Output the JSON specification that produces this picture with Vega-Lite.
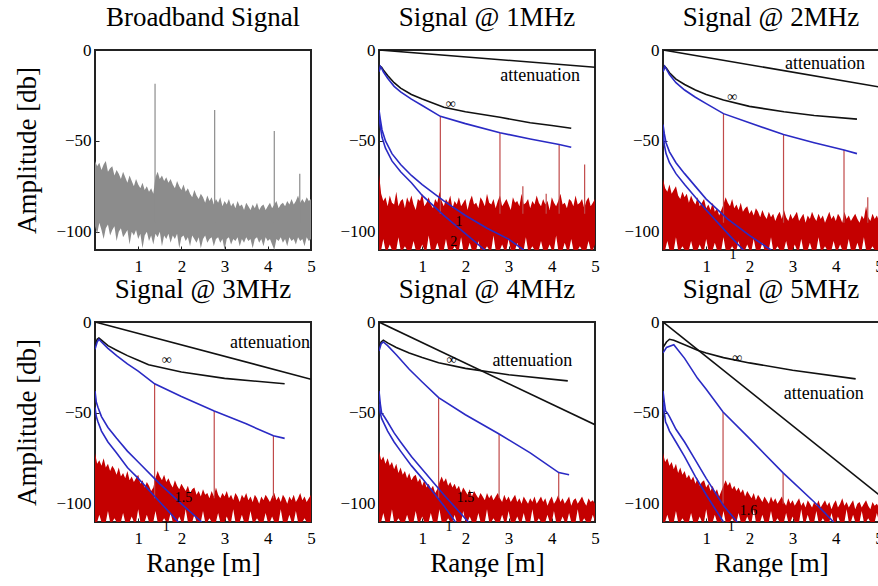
{
"$schema": "https://vega.github.io/schema/vega-lite/v6.json",
"background": "white",
"padding": {"left": 12, "top": 3, "right": 0, "bottom": 0},
"config": {
 "font": "Liberation Serif, Times New Roman, serif",
 "view": {"stroke": "#222222", "strokeWidth": 2},
 "title": {"font": "Liberation Serif, Times New Roman, serif", "fontSize": 27, "fontWeight": "normal", "color": "black", "offset": 9, "anchor": "middle"},
 "axis": {"labelFont": "Liberation Serif, Times New Roman, serif", "labelFontSize": 17, "labelColor": "black", "domain": false, "grid": false, "ticks": true, "tickColor": "#222222", "tickSize": -4, "labelPadding": 12, "labelFlush": false, "labelOverlap": false, "titleFont": "Liberation Serif, Times New Roman, serif", "titleFontSize": 27, "titleFontWeight": "normal", "titleColor": "black"},
 "axisY": {"labelPadding": 8, "titlePadding": 14},
 "axisX": {"titlePadding": 4}
},
"datasets": {
"noise": [
{"p":1,"x":0.00,"h":-61,"l":-97},{"p":1,"x":0.05,"h":-64,"l":-101},{"p":1,"x":0.10,"h":-62,"l":-95},{"p":1,"x":0.15,"h":-66,"l":-99},{"p":1,"x":0.20,"h":-63,"l":-104},{"p":1,"x":0.25,"h":-61,"l":-98},{"p":1,"x":0.30,"h":-67,"l":-96},{"p":1,"x":0.35,"h":-65,"l":-102},{"p":1,"x":0.40,"h":-64,"l":-99},{"p":1,"x":0.45,"h":-69,"l":-97},{"p":1,"x":0.50,"h":-66,"l":-105},{"p":1,"x":0.55,"h":-68,"l":-100},{"p":1,"x":0.60,"h":-71,"l":-98},{"p":1,"x":0.65,"h":-67,"l":-103},{"p":1,"x":0.70,"h":-70,"l":-101},{"p":1,"x":0.75,"h":-73,"l":-99},{"p":1,"x":0.80,"h":-69,"l":-107},{"p":1,"x":0.85,"h":-72,"l":-100},{"p":1,"x":0.90,"h":-75,"l":-102},{"p":1,"x":0.95,"h":-71,"l":-99},{"p":1,"x":1.00,"h":-74,"l":-104},{"p":1,"x":1.05,"h":-76,"l":-101},{"p":1,"x":1.10,"h":-73,"l":-109},{"p":1,"x":1.15,"h":-77,"l":-102},{"p":1,"x":1.20,"h":-75,"l":-100},{"p":1,"x":1.25,"h":-78,"l":-105},{"p":1,"x":1.30,"h":-76,"l":-102},{"p":1,"x":1.35,"h":-79,"l":-107},{"p":1,"x":1.40,"h":-70,"l":-101},{"p":1,"x":1.45,"h":-67,"l":-103},{"p":1,"x":1.50,"h":-71,"l":-100},{"p":1,"x":1.55,"h":-69,"l":-108},{"p":1,"x":1.60,"h":-72,"l":-102},{"p":1,"x":1.65,"h":-70,"l":-104},{"p":1,"x":1.70,"h":-73,"l":-101},{"p":1,"x":1.75,"h":-71,"l":-106},{"p":1,"x":1.80,"h":-74,"l":-102},{"p":1,"x":1.85,"h":-76,"l":-104},{"p":1,"x":1.90,"h":-72,"l":-101},{"p":1,"x":1.95,"h":-75,"l":-109},{"p":1,"x":2.00,"h":-77,"l":-103},{"p":1,"x":2.05,"h":-74,"l":-102},{"p":1,"x":2.10,"h":-78,"l":-105},{"p":1,"x":2.15,"h":-76,"l":-103},{"p":1,"x":2.20,"h":-79,"l":-108},{"p":1,"x":2.25,"h":-81,"l":-102},{"p":1,"x":2.30,"h":-77,"l":-104},{"p":1,"x":2.35,"h":-80,"l":-106},{"p":1,"x":2.40,"h":-82,"l":-103},{"p":1,"x":2.45,"h":-79,"l":-109},{"p":1,"x":2.50,"h":-81,"l":-104},{"p":1,"x":2.55,"h":-84,"l":-102},{"p":1,"x":2.60,"h":-80,"l":-106},{"p":1,"x":2.65,"h":-83,"l":-104},{"p":1,"x":2.70,"h":-81,"l":-103},{"p":1,"x":2.75,"h":-85,"l":-108},{"p":1,"x":2.80,"h":-82,"l":-104},{"p":1,"x":2.85,"h":-84,"l":-103},{"p":1,"x":2.90,"h":-81,"l":-106},{"p":1,"x":2.95,"h":-86,"l":-104},{"p":1,"x":3.00,"h":-83,"l":-110},{"p":1,"x":3.05,"h":-85,"l":-104},{"p":1,"x":3.10,"h":-82,"l":-103},{"p":1,"x":3.15,"h":-86,"l":-107},{"p":1,"x":3.20,"h":-84,"l":-104},{"p":1,"x":3.25,"h":-87,"l":-105},{"p":1,"x":3.30,"h":-83,"l":-103},{"p":1,"x":3.35,"h":-86,"l":-108},{"p":1,"x":3.40,"h":-85,"l":-104},{"p":1,"x":3.45,"h":-88,"l":-106},{"p":1,"x":3.50,"h":-84,"l":-103},{"p":1,"x":3.55,"h":-86,"l":-105},{"p":1,"x":3.60,"h":-88,"l":-104},{"p":1,"x":3.65,"h":-85,"l":-109},{"p":1,"x":3.70,"h":-87,"l":-104},{"p":1,"x":3.75,"h":-84,"l":-103},{"p":1,"x":3.80,"h":-88,"l":-106},{"p":1,"x":3.85,"h":-86,"l":-104},{"p":1,"x":3.90,"h":-85,"l":-108},{"p":1,"x":3.95,"h":-88,"l":-103},{"p":1,"x":4.00,"h":-86,"l":-105},{"p":1,"x":4.05,"h":-84,"l":-104},{"p":1,"x":4.10,"h":-87,"l":-107},{"p":1,"x":4.15,"h":-85,"l":-110},{"p":1,"x":4.20,"h":-83,"l":-104},{"p":1,"x":4.25,"h":-87,"l":-105},{"p":1,"x":4.30,"h":-85,"l":-103},{"p":1,"x":4.35,"h":-84,"l":-106},{"p":1,"x":4.40,"h":-86,"l":-104},{"p":1,"x":4.45,"h":-83,"l":-108},{"p":1,"x":4.50,"h":-85,"l":-103},{"p":1,"x":4.55,"h":-82,"l":-105},{"p":1,"x":4.60,"h":-85,"l":-104},{"p":1,"x":4.65,"h":-83,"l":-107},{"p":1,"x":4.70,"h":-80,"l":-103},{"p":1,"x":4.75,"h":-84,"l":-105},{"p":1,"x":4.80,"h":-82,"l":-104},{"p":1,"x":4.85,"h":-84,"l":-108},{"p":1,"x":4.90,"h":-81,"l":-103},{"p":1,"x":4.95,"h":-83,"l":-105},{"p":1,"x":5.00,"h":-82,"l":-104},
{"p":2,"x":0.00,"h":-68,"l":-110},{"p":2,"x":0.05,"h":-79,"l":-110},{"p":2,"x":0.10,"h":-83,"l":-104},{"p":2,"x":0.15,"h":-81,"l":-110},{"p":2,"x":0.20,"h":-86,"l":-110},{"p":2,"x":0.25,"h":-80,"l":-107},{"p":2,"x":0.30,"h":-84,"l":-110},{"p":2,"x":0.35,"h":-85,"l":-110},{"p":2,"x":0.40,"h":-78,"l":-110},{"p":2,"x":0.45,"h":-86,"l":-103},{"p":2,"x":0.50,"h":-83,"l":-110},{"p":2,"x":0.55,"h":-82,"l":-110},{"p":2,"x":0.60,"h":-87,"l":-108},{"p":2,"x":0.65,"h":-81,"l":-110},{"p":2,"x":0.70,"h":-84,"l":-110},{"p":2,"x":0.75,"h":-80,"l":-110},{"p":2,"x":0.80,"h":-85,"l":-105},{"p":2,"x":0.85,"h":-88,"l":-110},{"p":2,"x":0.90,"h":-82,"l":-110},{"p":2,"x":0.95,"h":-83,"l":-110},{"p":2,"x":1.00,"h":-79,"l":-107},{"p":2,"x":1.05,"h":-86,"l":-110},{"p":2,"x":1.10,"h":-84,"l":-110},{"p":2,"x":1.15,"h":-81,"l":-102},{"p":2,"x":1.20,"h":-85,"l":-110},{"p":2,"x":1.25,"h":-87,"l":-110},{"p":2,"x":1.30,"h":-82,"l":-110},{"p":2,"x":1.35,"h":-84,"l":-106},{"p":2,"x":1.40,"h":-78,"l":-110},{"p":2,"x":1.45,"h":-83,"l":-110},{"p":2,"x":1.50,"h":-86,"l":-110},{"p":2,"x":1.55,"h":-82,"l":-104},{"p":2,"x":1.60,"h":-84,"l":-110},{"p":2,"x":1.65,"h":-80,"l":-110},{"p":2,"x":1.70,"h":-87,"l":-110},{"p":2,"x":1.75,"h":-83,"l":-108},{"p":2,"x":1.80,"h":-85,"l":-110},{"p":2,"x":1.85,"h":-81,"l":-110},{"p":2,"x":1.90,"h":-86,"l":-103},{"p":2,"x":1.95,"h":-84,"l":-110},{"p":2,"x":2.00,"h":-82,"l":-110},{"p":2,"x":2.05,"h":-88,"l":-110},{"p":2,"x":2.10,"h":-83,"l":-106},{"p":2,"x":2.15,"h":-80,"l":-110},{"p":2,"x":2.20,"h":-85,"l":-110},{"p":2,"x":2.25,"h":-84,"l":-110},{"p":2,"x":2.30,"h":-87,"l":-105},{"p":2,"x":2.35,"h":-81,"l":-110},{"p":2,"x":2.40,"h":-83,"l":-110},{"p":2,"x":2.45,"h":-86,"l":-110},{"p":2,"x":2.50,"h":-79,"l":-108},{"p":2,"x":2.55,"h":-84,"l":-110},{"p":2,"x":2.60,"h":-85,"l":-110},{"p":2,"x":2.65,"h":-82,"l":-102},{"p":2,"x":2.70,"h":-87,"l":-110},{"p":2,"x":2.75,"h":-83,"l":-110},{"p":2,"x":2.80,"h":-80,"l":-110},{"p":2,"x":2.85,"h":-86,"l":-107},{"p":2,"x":2.90,"h":-84,"l":-110},{"p":2,"x":2.95,"h":-82,"l":-110},{"p":2,"x":3.00,"h":-85,"l":-104},{"p":2,"x":3.05,"h":-88,"l":-110},{"p":2,"x":3.10,"h":-81,"l":-110},{"p":2,"x":3.15,"h":-84,"l":-110},{"p":2,"x":3.20,"h":-83,"l":-106},{"p":2,"x":3.25,"h":-86,"l":-110},{"p":2,"x":3.30,"h":-79,"l":-110},{"p":2,"x":3.35,"h":-85,"l":-110},{"p":2,"x":3.40,"h":-84,"l":-103},{"p":2,"x":3.45,"h":-82,"l":-110},{"p":2,"x":3.50,"h":-87,"l":-110},{"p":2,"x":3.55,"h":-83,"l":-108},{"p":2,"x":3.60,"h":-85,"l":-110},{"p":2,"x":3.65,"h":-80,"l":-110},{"p":2,"x":3.70,"h":-84,"l":-110},{"p":2,"x":3.75,"h":-86,"l":-105},{"p":2,"x":3.80,"h":-82,"l":-110},{"p":2,"x":3.85,"h":-85,"l":-110},{"p":2,"x":3.90,"h":-83,"l":-110},{"p":2,"x":3.95,"h":-88,"l":-107},{"p":2,"x":4.00,"h":-81,"l":-110},{"p":2,"x":4.05,"h":-84,"l":-110},{"p":2,"x":4.10,"h":-86,"l":-102},{"p":2,"x":4.15,"h":-83,"l":-110},{"p":2,"x":4.20,"h":-79,"l":-110},{"p":2,"x":4.25,"h":-85,"l":-110},{"p":2,"x":4.30,"h":-84,"l":-106},{"p":2,"x":4.35,"h":-87,"l":-110},{"p":2,"x":4.40,"h":-82,"l":-110},{"p":2,"x":4.45,"h":-83,"l":-104},{"p":2,"x":4.50,"h":-86,"l":-110},{"p":2,"x":4.55,"h":-80,"l":-110},{"p":2,"x":4.60,"h":-85,"l":-110},{"p":2,"x":4.65,"h":-84,"l":-108},{"p":2,"x":4.70,"h":-82,"l":-110},{"p":2,"x":4.75,"h":-87,"l":-110},{"p":2,"x":4.80,"h":-83,"l":-110},{"p":2,"x":4.85,"h":-81,"l":-105},{"p":2,"x":4.90,"h":-86,"l":-110},{"p":2,"x":4.95,"h":-84,"l":-110},{"p":2,"x":5.00,"h":-82,"l":-107},
{"p":3,"x":0.00,"h":-71,"l":-110},{"p":3,"x":0.05,"h":-76,"l":-110},{"p":3,"x":0.10,"h":-78,"l":-105},{"p":3,"x":0.15,"h":-74,"l":-110},{"p":3,"x":0.20,"h":-79,"l":-110},{"p":3,"x":0.25,"h":-77,"l":-110},{"p":3,"x":0.30,"h":-75,"l":-103},{"p":3,"x":0.35,"h":-80,"l":-110},{"p":3,"x":0.40,"h":-82,"l":-110},{"p":3,"x":0.45,"h":-78,"l":-108},{"p":3,"x":0.50,"h":-81,"l":-110},{"p":3,"x":0.55,"h":-79,"l":-110},{"p":3,"x":0.60,"h":-84,"l":-110},{"p":3,"x":0.65,"h":-80,"l":-105},{"p":3,"x":0.70,"h":-83,"l":-110},{"p":3,"x":0.75,"h":-85,"l":-110},{"p":3,"x":0.80,"h":-81,"l":-110},{"p":3,"x":0.85,"h":-86,"l":-107},{"p":3,"x":0.90,"h":-84,"l":-110},{"p":3,"x":0.95,"h":-82,"l":-110},{"p":3,"x":1.00,"h":-87,"l":-104},{"p":3,"x":1.05,"h":-85,"l":-110},{"p":3,"x":1.10,"h":-88,"l":-110},{"p":3,"x":1.15,"h":-84,"l":-110},{"p":3,"x":1.20,"h":-89,"l":-106},{"p":3,"x":1.25,"h":-87,"l":-110},{"p":3,"x":1.30,"h":-91,"l":-110},{"p":3,"x":1.35,"h":-88,"l":-110},{"p":3,"x":1.40,"h":-85,"l":-103},{"p":3,"x":1.45,"h":-81,"l":-110},{"p":3,"x":1.50,"h":-84,"l":-110},{"p":3,"x":1.55,"h":-86,"l":-110},{"p":3,"x":1.60,"h":-82,"l":-108},{"p":3,"x":1.65,"h":-87,"l":-110},{"p":3,"x":1.70,"h":-85,"l":-110},{"p":3,"x":1.75,"h":-88,"l":-105},{"p":3,"x":1.80,"h":-84,"l":-110},{"p":3,"x":1.85,"h":-89,"l":-110},{"p":3,"x":1.90,"h":-87,"l":-110},{"p":3,"x":1.95,"h":-86,"l":-107},{"p":3,"x":2.00,"h":-90,"l":-110},{"p":3,"x":2.05,"h":-88,"l":-110},{"p":3,"x":2.10,"h":-91,"l":-104},{"p":3,"x":2.15,"h":-87,"l":-110},{"p":3,"x":2.20,"h":-89,"l":-110},{"p":3,"x":2.25,"h":-92,"l":-110},{"p":3,"x":2.30,"h":-88,"l":-106},{"p":3,"x":2.35,"h":-91,"l":-110},{"p":3,"x":2.40,"h":-93,"l":-110},{"p":3,"x":2.45,"h":-89,"l":-110},{"p":3,"x":2.50,"h":-92,"l":-103},{"p":3,"x":2.55,"h":-90,"l":-110},{"p":3,"x":2.60,"h":-94,"l":-110},{"p":3,"x":2.65,"h":-91,"l":-108},{"p":3,"x":2.70,"h":-89,"l":-110},{"p":3,"x":2.75,"h":-93,"l":-110},{"p":3,"x":2.80,"h":-88,"l":-110},{"p":3,"x":2.85,"h":-92,"l":-105},{"p":3,"x":2.90,"h":-94,"l":-110},{"p":3,"x":2.95,"h":-90,"l":-110},{"p":3,"x":3.00,"h":-93,"l":-110},{"p":3,"x":3.05,"h":-91,"l":-107},{"p":3,"x":3.10,"h":-89,"l":-110},{"p":3,"x":3.15,"h":-94,"l":-110},{"p":3,"x":3.20,"h":-92,"l":-104},{"p":3,"x":3.25,"h":-90,"l":-110},{"p":3,"x":3.30,"h":-95,"l":-110},{"p":3,"x":3.35,"h":-91,"l":-110},{"p":3,"x":3.40,"h":-93,"l":-106},{"p":3,"x":3.45,"h":-89,"l":-110},{"p":3,"x":3.50,"h":-92,"l":-110},{"p":3,"x":3.55,"h":-94,"l":-110},{"p":3,"x":3.60,"h":-90,"l":-103},{"p":3,"x":3.65,"h":-93,"l":-110},{"p":3,"x":3.70,"h":-91,"l":-110},{"p":3,"x":3.75,"h":-95,"l":-108},{"p":3,"x":3.80,"h":-92,"l":-110},{"p":3,"x":3.85,"h":-89,"l":-110},{"p":3,"x":3.90,"h":-93,"l":-110},{"p":3,"x":3.95,"h":-91,"l":-105},{"p":3,"x":4.00,"h":-94,"l":-110},{"p":3,"x":4.05,"h":-90,"l":-110},{"p":3,"x":4.10,"h":-92,"l":-107},{"p":3,"x":4.15,"h":-95,"l":-110},{"p":3,"x":4.20,"h":-89,"l":-110},{"p":3,"x":4.25,"h":-93,"l":-110},{"p":3,"x":4.30,"h":-91,"l":-104},{"p":3,"x":4.35,"h":-94,"l":-110},{"p":3,"x":4.40,"h":-92,"l":-110},{"p":3,"x":4.45,"h":-90,"l":-110},{"p":3,"x":4.50,"h":-93,"l":-106},{"p":3,"x":4.55,"h":-95,"l":-110},{"p":3,"x":4.60,"h":-91,"l":-110},{"p":3,"x":4.65,"h":-93,"l":-103},{"p":3,"x":4.70,"h":-86,"l":-110},{"p":3,"x":4.75,"h":-92,"l":-110},{"p":3,"x":4.80,"h":-94,"l":-110},{"p":3,"x":4.85,"h":-90,"l":-108},{"p":3,"x":4.90,"h":-93,"l":-110},{"p":3,"x":4.95,"h":-91,"l":-110},{"p":3,"x":5.00,"h":-94,"l":-110},
{"p":4,"x":0.00,"h":-72,"l":-110},{"p":4,"x":0.05,"h":-78,"l":-110},{"p":4,"x":0.10,"h":-76,"l":-106},{"p":4,"x":0.15,"h":-79,"l":-110},{"p":4,"x":0.20,"h":-75,"l":-110},{"p":4,"x":0.25,"h":-80,"l":-110},{"p":4,"x":0.30,"h":-78,"l":-104},{"p":4,"x":0.35,"h":-82,"l":-110},{"p":4,"x":0.40,"h":-79,"l":-110},{"p":4,"x":0.45,"h":-81,"l":-108},{"p":4,"x":0.50,"h":-84,"l":-110},{"p":4,"x":0.55,"h":-80,"l":-110},{"p":4,"x":0.60,"h":-85,"l":-110},{"p":4,"x":0.65,"h":-83,"l":-105},{"p":4,"x":0.70,"h":-86,"l":-110},{"p":4,"x":0.75,"h":-82,"l":-110},{"p":4,"x":0.80,"h":-87,"l":-110},{"p":4,"x":0.85,"h":-85,"l":-107},{"p":4,"x":0.90,"h":-88,"l":-110},{"p":4,"x":0.95,"h":-86,"l":-110},{"p":4,"x":1.00,"h":-84,"l":-103},{"p":4,"x":1.05,"h":-89,"l":-110},{"p":4,"x":1.10,"h":-87,"l":-110},{"p":4,"x":1.15,"h":-91,"l":-110},{"p":4,"x":1.20,"h":-88,"l":-106},{"p":4,"x":1.25,"h":-90,"l":-110},{"p":4,"x":1.30,"h":-93,"l":-110},{"p":4,"x":1.35,"h":-91,"l":-110},{"p":4,"x":1.40,"h":-86,"l":-104},{"p":4,"x":1.45,"h":-82,"l":-110},{"p":4,"x":1.50,"h":-85,"l":-110},{"p":4,"x":1.55,"h":-87,"l":-110},{"p":4,"x":1.60,"h":-84,"l":-108},{"p":4,"x":1.65,"h":-88,"l":-110},{"p":4,"x":1.70,"h":-86,"l":-110},{"p":4,"x":1.75,"h":-89,"l":-105},{"p":4,"x":1.80,"h":-91,"l":-110},{"p":4,"x":1.85,"h":-87,"l":-110},{"p":4,"x":1.90,"h":-90,"l":-110},{"p":4,"x":1.95,"h":-92,"l":-107},{"p":4,"x":2.00,"h":-89,"l":-110},{"p":4,"x":2.05,"h":-91,"l":-110},{"p":4,"x":2.10,"h":-93,"l":-103},{"p":4,"x":2.15,"h":-90,"l":-110},{"p":4,"x":2.20,"h":-94,"l":-110},{"p":4,"x":2.25,"h":-92,"l":-110},{"p":4,"x":2.30,"h":-91,"l":-106},{"p":4,"x":2.35,"h":-95,"l":-110},{"p":4,"x":2.40,"h":-93,"l":-110},{"p":4,"x":2.45,"h":-96,"l":-110},{"p":4,"x":2.50,"h":-92,"l":-104},{"p":4,"x":2.55,"h":-95,"l":-110},{"p":4,"x":2.60,"h":-94,"l":-110},{"p":4,"x":2.65,"h":-97,"l":-108},{"p":4,"x":2.70,"h":-93,"l":-110},{"p":4,"x":2.75,"h":-96,"l":-110},{"p":4,"x":2.80,"h":-91,"l":-110},{"p":4,"x":2.85,"h":-95,"l":-105},{"p":4,"x":2.90,"h":-97,"l":-110},{"p":4,"x":2.95,"h":-94,"l":-110},{"p":4,"x":3.00,"h":-96,"l":-110},{"p":4,"x":3.05,"h":-93,"l":-107},{"p":4,"x":3.10,"h":-97,"l":-110},{"p":4,"x":3.15,"h":-95,"l":-110},{"p":4,"x":3.20,"h":-98,"l":-103},{"p":4,"x":3.25,"h":-94,"l":-110},{"p":4,"x":3.30,"h":-96,"l":-110},{"p":4,"x":3.35,"h":-99,"l":-110},{"p":4,"x":3.40,"h":-95,"l":-106},{"p":4,"x":3.45,"h":-97,"l":-110},{"p":4,"x":3.50,"h":-94,"l":-110},{"p":4,"x":3.55,"h":-98,"l":-110},{"p":4,"x":3.60,"h":-96,"l":-104},{"p":4,"x":3.65,"h":-99,"l":-110},{"p":4,"x":3.70,"h":-95,"l":-110},{"p":4,"x":3.75,"h":-97,"l":-108},{"p":4,"x":3.80,"h":-100,"l":-110},{"p":4,"x":3.85,"h":-96,"l":-110},{"p":4,"x":3.90,"h":-98,"l":-110},{"p":4,"x":3.95,"h":-95,"l":-105},{"p":4,"x":4.00,"h":-97,"l":-110},{"p":4,"x":4.05,"h":-99,"l":-110},{"p":4,"x":4.10,"h":-96,"l":-107},{"p":4,"x":4.15,"h":-94,"l":-110},{"p":4,"x":4.20,"h":-98,"l":-110},{"p":4,"x":4.25,"h":-96,"l":-110},{"p":4,"x":4.30,"h":-99,"l":-103},{"p":4,"x":4.35,"h":-95,"l":-110},{"p":4,"x":4.40,"h":-97,"l":-110},{"p":4,"x":4.45,"h":-100,"l":-110},{"p":4,"x":4.50,"h":-96,"l":-106},{"p":4,"x":4.55,"h":-98,"l":-110},{"p":4,"x":4.60,"h":-95,"l":-110},{"p":4,"x":4.65,"h":-99,"l":-104},{"p":4,"x":4.70,"h":-97,"l":-110},{"p":4,"x":4.75,"h":-94,"l":-110},{"p":4,"x":4.80,"h":-98,"l":-110},{"p":4,"x":4.85,"h":-96,"l":-108},{"p":4,"x":4.90,"h":-99,"l":-110},{"p":4,"x":4.95,"h":-97,"l":-110},{"p":4,"x":5.00,"h":-95,"l":-110},
{"p":5,"x":0.00,"h":-71,"l":-110},{"p":5,"x":0.05,"h":-76,"l":-110},{"p":5,"x":0.10,"h":-74,"l":-105},{"p":5,"x":0.15,"h":-78,"l":-110},{"p":5,"x":0.20,"h":-75,"l":-110},{"p":5,"x":0.25,"h":-79,"l":-110},{"p":5,"x":0.30,"h":-77,"l":-103},{"p":5,"x":0.35,"h":-81,"l":-110},{"p":5,"x":0.40,"h":-78,"l":-110},{"p":5,"x":0.45,"h":-83,"l":-108},{"p":5,"x":0.50,"h":-80,"l":-110},{"p":5,"x":0.55,"h":-84,"l":-110},{"p":5,"x":0.60,"h":-82,"l":-110},{"p":5,"x":0.65,"h":-86,"l":-106},{"p":5,"x":0.70,"h":-83,"l":-110},{"p":5,"x":0.75,"h":-87,"l":-110},{"p":5,"x":0.80,"h":-85,"l":-110},{"p":5,"x":0.85,"h":-84,"l":-104},{"p":5,"x":0.90,"h":-88,"l":-110},{"p":5,"x":0.95,"h":-86,"l":-110},{"p":5,"x":1.00,"h":-90,"l":-107},{"p":5,"x":1.05,"h":-87,"l":-110},{"p":5,"x":1.10,"h":-91,"l":-110},{"p":5,"x":1.15,"h":-89,"l":-110},{"p":5,"x":1.20,"h":-92,"l":-105},{"p":5,"x":1.25,"h":-90,"l":-110},{"p":5,"x":1.30,"h":-94,"l":-110},{"p":5,"x":1.35,"h":-92,"l":-110},{"p":5,"x":1.40,"h":-88,"l":-103},{"p":5,"x":1.45,"h":-85,"l":-110},{"p":5,"x":1.50,"h":-88,"l":-110},{"p":5,"x":1.55,"h":-86,"l":-110},{"p":5,"x":1.60,"h":-90,"l":-108},{"p":5,"x":1.65,"h":-88,"l":-110},{"p":5,"x":1.70,"h":-91,"l":-110},{"p":5,"x":1.75,"h":-89,"l":-106},{"p":5,"x":1.80,"h":-92,"l":-110},{"p":5,"x":1.85,"h":-90,"l":-110},{"p":5,"x":1.90,"h":-94,"l":-110},{"p":5,"x":1.95,"h":-91,"l":-104},{"p":5,"x":2.00,"h":-93,"l":-110},{"p":5,"x":2.05,"h":-95,"l":-110},{"p":5,"x":2.10,"h":-92,"l":-107},{"p":5,"x":2.15,"h":-96,"l":-110},{"p":5,"x":2.20,"h":-93,"l":-110},{"p":5,"x":2.25,"h":-95,"l":-110},{"p":5,"x":2.30,"h":-97,"l":-105},{"p":5,"x":2.35,"h":-94,"l":-110},{"p":5,"x":2.40,"h":-96,"l":-110},{"p":5,"x":2.45,"h":-98,"l":-110},{"p":5,"x":2.50,"h":-94,"l":-103},{"p":5,"x":2.55,"h":-97,"l":-110},{"p":5,"x":2.60,"h":-95,"l":-110},{"p":5,"x":2.65,"h":-98,"l":-108},{"p":5,"x":2.70,"h":-96,"l":-110},{"p":5,"x":2.75,"h":-94,"l":-110},{"p":5,"x":2.80,"h":-97,"l":-110},{"p":5,"x":2.85,"h":-99,"l":-106},{"p":5,"x":2.90,"h":-95,"l":-110},{"p":5,"x":2.95,"h":-98,"l":-110},{"p":5,"x":3.00,"h":-96,"l":-104},{"p":5,"x":3.05,"h":-99,"l":-110},{"p":5,"x":3.10,"h":-97,"l":-110},{"p":5,"x":3.15,"h":-95,"l":-110},{"p":5,"x":3.20,"h":-99,"l":-107},{"p":5,"x":3.25,"h":-97,"l":-110},{"p":5,"x":3.30,"h":-100,"l":-110},{"p":5,"x":3.35,"h":-96,"l":-105},{"p":5,"x":3.40,"h":-98,"l":-110},{"p":5,"x":3.45,"h":-100,"l":-110},{"p":5,"x":3.50,"h":-97,"l":-110},{"p":5,"x":3.55,"h":-99,"l":-103},{"p":5,"x":3.60,"h":-96,"l":-110},{"p":5,"x":3.65,"h":-100,"l":-110},{"p":5,"x":3.70,"h":-98,"l":-108},{"p":5,"x":3.75,"h":-96,"l":-110},{"p":5,"x":3.80,"h":-99,"l":-110},{"p":5,"x":3.85,"h":-97,"l":-110},{"p":5,"x":3.90,"h":-101,"l":-106},{"p":5,"x":3.95,"h":-98,"l":-110},{"p":5,"x":4.00,"h":-96,"l":-110},{"p":5,"x":4.05,"h":-100,"l":-104},{"p":5,"x":4.10,"h":-98,"l":-110},{"p":5,"x":4.15,"h":-95,"l":-110},{"p":5,"x":4.20,"h":-99,"l":-110},{"p":5,"x":4.25,"h":-97,"l":-107},{"p":5,"x":4.30,"h":-100,"l":-110},{"p":5,"x":4.35,"h":-98,"l":-110},{"p":5,"x":4.40,"h":-96,"l":-105},{"p":5,"x":4.45,"h":-101,"l":-110},{"p":5,"x":4.50,"h":-98,"l":-110},{"p":5,"x":4.55,"h":-97,"l":-110},{"p":5,"x":4.60,"h":-100,"l":-103},{"p":5,"x":4.65,"h":-98,"l":-110},{"p":5,"x":4.70,"h":-96,"l":-110},{"p":5,"x":4.75,"h":-99,"l":-108},{"p":5,"x":4.80,"h":-101,"l":-110},{"p":5,"x":4.85,"h":-97,"l":-110},{"p":5,"x":4.90,"h":-99,"l":-110},{"p":5,"x":4.95,"h":-98,"l":-106},{"p":5,"x":5.00,"h":-100,"l":-110},
{"p":6,"x":0.00,"h":-72,"l":-110},{"p":6,"x":0.05,"h":-77,"l":-110},{"p":6,"x":0.10,"h":-75,"l":-106},{"p":6,"x":0.15,"h":-79,"l":-110},{"p":6,"x":0.20,"h":-77,"l":-110},{"p":6,"x":0.25,"h":-81,"l":-110},{"p":6,"x":0.30,"h":-78,"l":-104},{"p":6,"x":0.35,"h":-83,"l":-110},{"p":6,"x":0.40,"h":-80,"l":-110},{"p":6,"x":0.45,"h":-84,"l":-108},{"p":6,"x":0.50,"h":-82,"l":-110},{"p":6,"x":0.55,"h":-86,"l":-110},{"p":6,"x":0.60,"h":-84,"l":-110},{"p":6,"x":0.65,"h":-87,"l":-105},{"p":6,"x":0.70,"h":-85,"l":-110},{"p":6,"x":0.75,"h":-89,"l":-110},{"p":6,"x":0.80,"h":-86,"l":-110},{"p":6,"x":0.85,"h":-90,"l":-107},{"p":6,"x":0.90,"h":-88,"l":-110},{"p":6,"x":0.95,"h":-87,"l":-110},{"p":6,"x":1.00,"h":-91,"l":-103},{"p":6,"x":1.05,"h":-89,"l":-110},{"p":6,"x":1.10,"h":-93,"l":-110},{"p":6,"x":1.15,"h":-90,"l":-110},{"p":6,"x":1.20,"h":-94,"l":-106},{"p":6,"x":1.25,"h":-92,"l":-110},{"p":6,"x":1.30,"h":-96,"l":-110},{"p":6,"x":1.35,"h":-93,"l":-110},{"p":6,"x":1.40,"h":-90,"l":-104},{"p":6,"x":1.45,"h":-87,"l":-110},{"p":6,"x":1.50,"h":-90,"l":-110},{"p":6,"x":1.55,"h":-88,"l":-110},{"p":6,"x":1.60,"h":-92,"l":-108},{"p":6,"x":1.65,"h":-90,"l":-110},{"p":6,"x":1.70,"h":-93,"l":-110},{"p":6,"x":1.75,"h":-91,"l":-105},{"p":6,"x":1.80,"h":-94,"l":-110},{"p":6,"x":1.85,"h":-92,"l":-110},{"p":6,"x":1.90,"h":-96,"l":-110},{"p":6,"x":1.95,"h":-93,"l":-107},{"p":6,"x":2.00,"h":-95,"l":-110},{"p":6,"x":2.05,"h":-97,"l":-110},{"p":6,"x":2.10,"h":-94,"l":-103},{"p":6,"x":2.15,"h":-98,"l":-110},{"p":6,"x":2.20,"h":-95,"l":-110},{"p":6,"x":2.25,"h":-97,"l":-110},{"p":6,"x":2.30,"h":-99,"l":-106},{"p":6,"x":2.35,"h":-96,"l":-110},{"p":6,"x":2.40,"h":-98,"l":-110},{"p":6,"x":2.45,"h":-100,"l":-110},{"p":6,"x":2.50,"h":-96,"l":-104},{"p":6,"x":2.55,"h":-99,"l":-110},{"p":6,"x":2.60,"h":-97,"l":-110},{"p":6,"x":2.65,"h":-100,"l":-108},{"p":6,"x":2.70,"h":-98,"l":-110},{"p":6,"x":2.75,"h":-96,"l":-110},{"p":6,"x":2.80,"h":-99,"l":-110},{"p":6,"x":2.85,"h":-101,"l":-105},{"p":6,"x":2.90,"h":-97,"l":-110},{"p":6,"x":2.95,"h":-100,"l":-110},{"p":6,"x":3.00,"h":-98,"l":-107},{"p":6,"x":3.05,"h":-101,"l":-110},{"p":6,"x":3.10,"h":-99,"l":-110},{"p":6,"x":3.15,"h":-97,"l":-110},{"p":6,"x":3.20,"h":-101,"l":-103},{"p":6,"x":3.25,"h":-99,"l":-110},{"p":6,"x":3.30,"h":-102,"l":-110},{"p":6,"x":3.35,"h":-98,"l":-106},{"p":6,"x":3.40,"h":-100,"l":-110},{"p":6,"x":3.45,"h":-102,"l":-110},{"p":6,"x":3.50,"h":-99,"l":-110},{"p":6,"x":3.55,"h":-101,"l":-104},{"p":6,"x":3.60,"h":-98,"l":-110},{"p":6,"x":3.65,"h":-102,"l":-110},{"p":6,"x":3.70,"h":-100,"l":-108},{"p":6,"x":3.75,"h":-98,"l":-110},{"p":6,"x":3.80,"h":-101,"l":-110},{"p":6,"x":3.85,"h":-99,"l":-110},{"p":6,"x":3.90,"h":-103,"l":-105},{"p":6,"x":3.95,"h":-100,"l":-110},{"p":6,"x":4.00,"h":-98,"l":-110},{"p":6,"x":4.05,"h":-102,"l":-107},{"p":6,"x":4.10,"h":-100,"l":-110},{"p":6,"x":4.15,"h":-97,"l":-110},{"p":6,"x":4.20,"h":-101,"l":-110},{"p":6,"x":4.25,"h":-99,"l":-103},{"p":6,"x":4.30,"h":-102,"l":-110},{"p":6,"x":4.35,"h":-100,"l":-110},{"p":6,"x":4.40,"h":-98,"l":-106},{"p":6,"x":4.45,"h":-103,"l":-110},{"p":6,"x":4.50,"h":-100,"l":-110},{"p":6,"x":4.55,"h":-99,"l":-110},{"p":6,"x":4.60,"h":-102,"l":-104},{"p":6,"x":4.65,"h":-100,"l":-110},{"p":6,"x":4.70,"h":-98,"l":-110},{"p":6,"x":4.75,"h":-101,"l":-108},{"p":6,"x":4.80,"h":-103,"l":-110},{"p":6,"x":4.85,"h":-99,"l":-110},{"p":6,"x":4.90,"h":-101,"l":-110},{"p":6,"x":4.95,"h":-100,"l":-105},{"p":6,"x":5.00,"h":-102,"l":-110}
],
"spikes": [
{"p":1,"x":1.39,"top":-18.5,"bot":-95},{"p":1,"x":2.77,"top":-33,"bot":-95},{"p":1,"x":4.15,"top":-44.5,"bot":-95},{"p":1,"x":4.74,"top":-68,"bot":-95},
{"p":2,"x":1.42,"top":-36.5,"bot":-90},{"p":2,"x":2.8,"top":-45.5,"bot":-90},{"p":2,"x":4.17,"top":-52,"bot":-90},{"p":2,"x":4.76,"top":-63,"bot":-90},{"p":2,"x":3.33,"top":-75,"bot":-90},{"p":2,"x":3.87,"top":-79,"bot":-90},
{"p":3,"x":1.4,"top":-35,"bot":-95},{"p":3,"x":2.79,"top":-46.5,"bot":-95},{"p":3,"x":4.19,"top":-55,"bot":-95},{"p":3,"x":4.74,"top":-81,"bot":-95},
{"p":4,"x":1.38,"top":-34,"bot":-97},{"p":4,"x":2.76,"top":-49,"bot":-97},{"p":4,"x":4.13,"top":-62.6,"bot":-97},
{"p":5,"x":1.38,"top":-41.6,"bot":-97},{"p":5,"x":2.78,"top":-61.6,"bot":-97},{"p":5,"x":4.16,"top":-82.8,"bot":-97},
{"p":6,"x":1.39,"top":-49.5,"bot":-100},{"p":6,"x":2.78,"top":-83,"bot":-100}
],
"curves": [
{"p":2,"s":"att","k":"model","x":0,"y":0},{"p":2,"s":"att","k":"model","x":5,"y":-9.5},
{"p":2,"s":"inf","k":"model","x":0,"y":-12},{"p":2,"s":"inf","k":"model","x":0.03,"y":-9},{"p":2,"s":"inf","k":"model","x":0.06,"y":-9.5},{"p":2,"s":"inf","k":"model","x":0.1,"y":-11},{"p":2,"s":"inf","k":"model","x":0.2,"y":-14},{"p":2,"s":"inf","k":"model","x":0.35,"y":-18},{"p":2,"s":"inf","k":"model","x":0.5,"y":-21},{"p":2,"s":"inf","k":"model","x":0.75,"y":-24.5},{"p":2,"s":"inf","k":"model","x":1.0,"y":-27},{"p":2,"s":"inf","k":"model","x":1.5,"y":-31.5},{"p":2,"s":"inf","k":"model","x":2.0,"y":-34},{"p":2,"s":"inf","k":"model","x":2.8,"y":-37},{"p":2,"s":"inf","k":"model","x":3.5,"y":-40},{"p":2,"s":"inf","k":"model","x":4.0,"y":-41.5},{"p":2,"s":"inf","k":"model","x":4.45,"y":-43},
{"p":2,"s":"e0","k":"echo","x":0,"y":-12},{"p":2,"s":"e0","k":"echo","x":0.03,"y":-9},{"p":2,"s":"e0","k":"echo","x":0.06,"y":-10},{"p":2,"s":"e0","k":"echo","x":0.1,"y":-12},{"p":2,"s":"e0","k":"echo","x":0.2,"y":-15.5},{"p":2,"s":"e0","k":"echo","x":0.35,"y":-20},{"p":2,"s":"e0","k":"echo","x":0.5,"y":-23},{"p":2,"s":"e0","k":"echo","x":0.75,"y":-27},{"p":2,"s":"e0","k":"echo","x":1.0,"y":-30.5},{"p":2,"s":"e0","k":"echo","x":1.42,"y":-36.5},{"p":2,"s":"e0","k":"echo","x":2.0,"y":-40.5},{"p":2,"s":"e0","k":"echo","x":2.8,"y":-45.5},{"p":2,"s":"e0","k":"echo","x":3.5,"y":-49},{"p":2,"s":"e0","k":"echo","x":4.17,"y":-52},{"p":2,"s":"e0","k":"echo","x":4.45,"y":-53.5},
{"p":2,"s":"e1","k":"echo","x":0,"y":-33},{"p":2,"s":"e1","k":"echo","x":0.03,"y":-38},{"p":2,"s":"e1","k":"echo","x":0.07,"y":-44},{"p":2,"s":"e1","k":"echo","x":0.15,"y":-50},{"p":2,"s":"e1","k":"echo","x":0.3,"y":-57},{"p":2,"s":"e1","k":"echo","x":0.5,"y":-63},{"p":2,"s":"e1","k":"echo","x":0.75,"y":-69},{"p":2,"s":"e1","k":"echo","x":1.0,"y":-74},{"p":2,"s":"e1","k":"echo","x":1.5,"y":-83},{"p":2,"s":"e1","k":"echo","x":2.0,"y":-91},{"p":2,"s":"e1","k":"echo","x":2.5,"y":-98},{"p":2,"s":"e1","k":"echo","x":3.0,"y":-104},{"p":2,"s":"e1","k":"echo","x":3.35,"y":-110},
{"p":2,"s":"e2","k":"echo","x":0,"y":-37},{"p":2,"s":"e2","k":"echo","x":0.03,"y":-42},{"p":2,"s":"e2","k":"echo","x":0.07,"y":-48},{"p":2,"s":"e2","k":"echo","x":0.15,"y":-54},{"p":2,"s":"e2","k":"echo","x":0.3,"y":-61},{"p":2,"s":"e2","k":"echo","x":0.5,"y":-67},{"p":2,"s":"e2","k":"echo","x":0.75,"y":-73},{"p":2,"s":"e2","k":"echo","x":1.0,"y":-80},{"p":2,"s":"e2","k":"echo","x":1.5,"y":-91},{"p":2,"s":"e2","k":"echo","x":2.0,"y":-101},{"p":2,"s":"e2","k":"echo","x":2.45,"y":-110},
{"p":3,"s":"att","k":"model","x":0,"y":0},{"p":3,"s":"att","k":"model","x":5,"y":-20.3},
{"p":3,"s":"inf","k":"model","x":0,"y":-12},{"p":3,"s":"inf","k":"model","x":0.04,"y":-9},{"p":3,"s":"inf","k":"model","x":0.08,"y":-10},{"p":3,"s":"inf","k":"model","x":0.15,"y":-12.5},{"p":3,"s":"inf","k":"model","x":0.3,"y":-16},{"p":3,"s":"inf","k":"model","x":0.5,"y":-19},{"p":3,"s":"inf","k":"model","x":0.75,"y":-22},{"p":3,"s":"inf","k":"model","x":1.0,"y":-24.5},{"p":3,"s":"inf","k":"model","x":1.4,"y":-27.5},{"p":3,"s":"inf","k":"model","x":2.0,"y":-31},{"p":3,"s":"inf","k":"model","x":2.8,"y":-34},{"p":3,"s":"inf","k":"model","x":3.5,"y":-36},{"p":3,"s":"inf","k":"model","x":4.49,"y":-38},
{"p":3,"s":"e0","k":"echo","x":0,"y":-12},{"p":3,"s":"e0","k":"echo","x":0.04,"y":-9},{"p":3,"s":"e0","k":"echo","x":0.08,"y":-10.5},{"p":3,"s":"e0","k":"echo","x":0.15,"y":-13.5},{"p":3,"s":"e0","k":"echo","x":0.3,"y":-18},{"p":3,"s":"e0","k":"echo","x":0.5,"y":-22},{"p":3,"s":"e0","k":"echo","x":0.75,"y":-26},{"p":3,"s":"e0","k":"echo","x":1.0,"y":-29.5},{"p":3,"s":"e0","k":"echo","x":1.4,"y":-35},{"p":3,"s":"e0","k":"echo","x":2.0,"y":-40},{"p":3,"s":"e0","k":"echo","x":2.79,"y":-46.5},{"p":3,"s":"e0","k":"echo","x":3.5,"y":-51},{"p":3,"s":"e0","k":"echo","x":4.19,"y":-55},{"p":3,"s":"e0","k":"echo","x":4.49,"y":-57},
{"p":3,"s":"e1","k":"echo","x":0,"y":-41},{"p":3,"s":"e1","k":"echo","x":0.03,"y":-46},{"p":3,"s":"e1","k":"echo","x":0.07,"y":-51},{"p":3,"s":"e1","k":"echo","x":0.15,"y":-56},{"p":3,"s":"e1","k":"echo","x":0.3,"y":-62},{"p":3,"s":"e1","k":"echo","x":0.5,"y":-68},{"p":3,"s":"e1","k":"echo","x":0.75,"y":-75},{"p":3,"s":"e1","k":"echo","x":1.0,"y":-82},{"p":3,"s":"e1","k":"echo","x":1.5,"y":-93},{"p":3,"s":"e1","k":"echo","x":2.0,"y":-102},{"p":3,"s":"e1","k":"echo","x":2.5,"y":-110},
{"p":3,"s":"e2","k":"echo","x":0,"y":-45},{"p":3,"s":"e2","k":"echo","x":0.03,"y":-52},{"p":3,"s":"e2","k":"echo","x":0.07,"y":-57},{"p":3,"s":"e2","k":"echo","x":0.15,"y":-62},{"p":3,"s":"e2","k":"echo","x":0.3,"y":-68},{"p":3,"s":"e2","k":"echo","x":0.5,"y":-74},{"p":3,"s":"e2","k":"echo","x":0.75,"y":-81},{"p":3,"s":"e2","k":"echo","x":1.0,"y":-88},{"p":3,"s":"e2","k":"echo","x":1.5,"y":-101},{"p":3,"s":"e2","k":"echo","x":1.86,"y":-110},
{"p":4,"s":"att","k":"model","x":0,"y":0},{"p":4,"s":"att","k":"model","x":5,"y":-31.5},
{"p":4,"s":"inf","k":"model","x":0,"y":-13},{"p":4,"s":"inf","k":"model","x":0.05,"y":-9.5},{"p":4,"s":"inf","k":"model","x":0.09,"y":-8.8},{"p":4,"s":"inf","k":"model","x":0.15,"y":-10},{"p":4,"s":"inf","k":"model","x":0.3,"y":-13},{"p":4,"s":"inf","k":"model","x":0.5,"y":-15.5},{"p":4,"s":"inf","k":"model","x":0.75,"y":-18.5},{"p":4,"s":"inf","k":"model","x":1.0,"y":-21},{"p":4,"s":"inf","k":"model","x":1.24,"y":-23.5},{"p":4,"s":"inf","k":"model","x":2.0,"y":-27.5},{"p":4,"s":"inf","k":"model","x":3.0,"y":-31},{"p":4,"s":"inf","k":"model","x":4.39,"y":-34},
{"p":4,"s":"e0","k":"echo","x":0,"y":-15},{"p":4,"s":"e0","k":"echo","x":0.05,"y":-11},{"p":4,"s":"e0","k":"echo","x":0.09,"y":-9.5},{"p":4,"s":"e0","k":"echo","x":0.15,"y":-11},{"p":4,"s":"e0","k":"echo","x":0.3,"y":-14.5},{"p":4,"s":"e0","k":"echo","x":0.5,"y":-18.5},{"p":4,"s":"e0","k":"echo","x":0.75,"y":-23},{"p":4,"s":"e0","k":"echo","x":1.0,"y":-27},{"p":4,"s":"e0","k":"echo","x":1.38,"y":-34},{"p":4,"s":"e0","k":"echo","x":2.0,"y":-41},{"p":4,"s":"e0","k":"echo","x":2.76,"y":-49},{"p":4,"s":"e0","k":"echo","x":3.5,"y":-56},{"p":4,"s":"e0","k":"echo","x":4.13,"y":-62.6},{"p":4,"s":"e0","k":"echo","x":4.39,"y":-64},
{"p":4,"s":"e1","k":"echo","x":0,"y":-38},{"p":4,"s":"e1","k":"echo","x":0.03,"y":-44},{"p":4,"s":"e1","k":"echo","x":0.07,"y":-47},{"p":4,"s":"e1","k":"echo","x":0.15,"y":-52},{"p":4,"s":"e1","k":"echo","x":0.3,"y":-58},{"p":4,"s":"e1","k":"echo","x":0.5,"y":-64},{"p":4,"s":"e1","k":"echo","x":0.75,"y":-71},{"p":4,"s":"e1","k":"echo","x":1.0,"y":-77},{"p":4,"s":"e1","k":"echo","x":1.5,"y":-89},{"p":4,"s":"e1","k":"echo","x":2.0,"y":-100},{"p":4,"s":"e1","k":"echo","x":2.47,"y":-110},
{"p":4,"s":"e2","k":"echo","x":0,"y":-47},{"p":4,"s":"e2","k":"echo","x":0.03,"y":-52},{"p":4,"s":"e2","k":"echo","x":0.07,"y":-55},{"p":4,"s":"e2","k":"echo","x":0.15,"y":-60},{"p":4,"s":"e2","k":"echo","x":0.3,"y":-66},{"p":4,"s":"e2","k":"echo","x":0.5,"y":-72},{"p":4,"s":"e2","k":"echo","x":0.75,"y":-80},{"p":4,"s":"e2","k":"echo","x":1.0,"y":-86},{"p":4,"s":"e2","k":"echo","x":1.5,"y":-99},{"p":4,"s":"e2","k":"echo","x":1.93,"y":-110},
{"p":5,"s":"att","k":"model","x":0,"y":0},{"p":5,"s":"att","k":"model","x":5,"y":-56.5},
{"p":5,"s":"inf","k":"model","x":0,"y":-14},{"p":5,"s":"inf","k":"model","x":0.05,"y":-11},{"p":5,"s":"inf","k":"model","x":0.1,"y":-10},{"p":5,"s":"inf","k":"model","x":0.2,"y":-11.5},{"p":5,"s":"inf","k":"model","x":0.4,"y":-14},{"p":5,"s":"inf","k":"model","x":0.7,"y":-17},{"p":5,"s":"inf","k":"model","x":1.0,"y":-19.5},{"p":5,"s":"inf","k":"model","x":1.38,"y":-22.4},{"p":5,"s":"inf","k":"model","x":2.0,"y":-25.5},{"p":5,"s":"inf","k":"model","x":3.0,"y":-29},{"p":5,"s":"inf","k":"model","x":4.37,"y":-32.4},
{"p":5,"s":"e0","k":"echo","x":0,"y":-16},{"p":5,"s":"e0","k":"echo","x":0.05,"y":-12},{"p":5,"s":"e0","k":"echo","x":0.1,"y":-11},{"p":5,"s":"e0","k":"echo","x":0.2,"y":-13},{"p":5,"s":"e0","k":"echo","x":0.4,"y":-18},{"p":5,"s":"e0","k":"echo","x":0.7,"y":-26},{"p":5,"s":"e0","k":"echo","x":1.0,"y":-33},{"p":5,"s":"e0","k":"echo","x":1.38,"y":-41.6},{"p":5,"s":"e0","k":"echo","x":2.0,"y":-51},{"p":5,"s":"e0","k":"echo","x":2.78,"y":-61.6},{"p":5,"s":"e0","k":"echo","x":3.5,"y":-72},{"p":5,"s":"e0","k":"echo","x":4.16,"y":-82.8},{"p":5,"s":"e0","k":"echo","x":4.4,"y":-84},
{"p":5,"s":"e1","k":"echo","x":0,"y":-38},{"p":5,"s":"e1","k":"echo","x":0.03,"y":-45},{"p":5,"s":"e1","k":"echo","x":0.06,"y":-50},{"p":5,"s":"e1","k":"echo","x":0.12,"y":-52},{"p":5,"s":"e1","k":"echo","x":0.2,"y":-55},{"p":5,"s":"e1","k":"echo","x":0.35,"y":-61},{"p":5,"s":"e1","k":"echo","x":0.5,"y":-66},{"p":5,"s":"e1","k":"echo","x":0.75,"y":-74},{"p":5,"s":"e1","k":"echo","x":1.0,"y":-81},{"p":5,"s":"e1","k":"echo","x":1.5,"y":-95},{"p":5,"s":"e1","k":"echo","x":2.07,"y":-110},
{"p":5,"s":"e2","k":"echo","x":0,"y":-45},{"p":5,"s":"e2","k":"echo","x":0.03,"y":-50},{"p":5,"s":"e2","k":"echo","x":0.06,"y":-53},{"p":5,"s":"e2","k":"echo","x":0.12,"y":-56},{"p":5,"s":"e2","k":"echo","x":0.2,"y":-60},{"p":5,"s":"e2","k":"echo","x":0.35,"y":-66},{"p":5,"s":"e2","k":"echo","x":0.5,"y":-71},{"p":5,"s":"e2","k":"echo","x":0.75,"y":-79},{"p":5,"s":"e2","k":"echo","x":1.0,"y":-86},{"p":5,"s":"e2","k":"echo","x":1.5,"y":-101},{"p":5,"s":"e2","k":"echo","x":1.77,"y":-110},
{"p":6,"s":"att","k":"model","x":0,"y":0},{"p":6,"s":"att","k":"model","x":5,"y":-95},
{"p":6,"s":"inf","k":"model","x":0,"y":-14},{"p":6,"s":"inf","k":"model","x":0.08,"y":-11},{"p":6,"s":"inf","k":"model","x":0.15,"y":-9.5},{"p":6,"s":"inf","k":"model","x":0.25,"y":-10},{"p":6,"s":"inf","k":"model","x":0.5,"y":-12.5},{"p":6,"s":"inf","k":"model","x":0.8,"y":-15.5},{"p":6,"s":"inf","k":"model","x":1.0,"y":-17},{"p":6,"s":"inf","k":"model","x":1.4,"y":-19.6},{"p":6,"s":"inf","k":"model","x":2.0,"y":-22.5},{"p":6,"s":"inf","k":"model","x":3.0,"y":-26.5},{"p":6,"s":"inf","k":"model","x":4.46,"y":-31.3},
{"p":6,"s":"e0","k":"echo","x":0,"y":-17},{"p":6,"s":"e0","k":"echo","x":0.08,"y":-14},{"p":6,"s":"e0","k":"echo","x":0.25,"y":-12.5},{"p":6,"s":"e0","k":"echo","x":0.5,"y":-20},{"p":6,"s":"e0","k":"echo","x":0.8,"y":-31},{"p":6,"s":"e0","k":"echo","x":1.0,"y":-37},{"p":6,"s":"e0","k":"echo","x":1.39,"y":-49.5},{"p":6,"s":"e0","k":"echo","x":2.0,"y":-64},{"p":6,"s":"e0","k":"echo","x":2.78,"y":-83},{"p":6,"s":"e0","k":"echo","x":3.5,"y":-99},{"p":6,"s":"e0","k":"echo","x":3.95,"y":-110},
{"p":6,"s":"e1","k":"echo","x":0,"y":-38},{"p":6,"s":"e1","k":"echo","x":0.03,"y":-44},{"p":6,"s":"e1","k":"echo","x":0.06,"y":-49},{"p":6,"s":"e1","k":"echo","x":0.1,"y":-50},{"p":6,"s":"e1","k":"echo","x":0.15,"y":-52},{"p":6,"s":"e1","k":"echo","x":0.3,"y":-59},{"p":6,"s":"e1","k":"echo","x":0.5,"y":-66},{"p":6,"s":"e1","k":"echo","x":0.75,"y":-76},{"p":6,"s":"e1","k":"echo","x":1.0,"y":-86},{"p":6,"s":"e1","k":"echo","x":1.4,"y":-101},{"p":6,"s":"e1","k":"echo","x":1.72,"y":-110},
{"p":6,"s":"e2","k":"echo","x":0,"y":-44},{"p":6,"s":"e2","k":"echo","x":0.03,"y":-50},{"p":6,"s":"e2","k":"echo","x":0.06,"y":-55},{"p":6,"s":"e2","k":"echo","x":0.1,"y":-57},{"p":6,"s":"e2","k":"echo","x":0.15,"y":-60},{"p":6,"s":"e2","k":"echo","x":0.3,"y":-66},{"p":6,"s":"e2","k":"echo","x":0.5,"y":-74},{"p":6,"s":"e2","k":"echo","x":0.75,"y":-85},{"p":6,"s":"e2","k":"echo","x":1.0,"y":-95},{"p":6,"s":"e2","k":"echo","x":1.4,"y":-110}
],
"labels": [
{"p":2,"g":"name","x":3.73,"y":-14.5,"t":"attenuation"},{"p":2,"g":"mark","x":1.66,"y":-29.5,"t":"∞"},{"p":2,"g":"mark","x":1.85,"y":-94.5,"t":"1"},{"p":2,"g":"mark","x":1.73,"y":-105.5,"t":"2"},
{"p":3,"g":"name","x":3.75,"y":-7.5,"t":"attenuation"},{"p":3,"g":"mark","x":1.6,"y":-26,"t":"∞"},{"p":3,"g":"mark","x":1.62,"y":-113,"t":"1"},
{"p":4,"g":"name","x":4.05,"y":-11.5,"t":"attenuation"},{"p":4,"g":"mark","x":1.66,"y":-21,"t":"∞"},{"p":4,"g":"mark","x":2.05,"y":-97,"t":"1.5"},{"p":4,"g":"mark","x":1.65,"y":-113,"t":"1"},
{"p":5,"g":"name","x":3.55,"y":-21.5,"t":"attenuation"},{"p":5,"g":"mark","x":1.68,"y":-21,"t":"∞"},{"p":5,"g":"mark","x":2.0,"y":-97,"t":"1.5"},{"p":5,"g":"mark","x":1.62,"y":-113,"t":"1"},
{"p":6,"g":"name","x":3.72,"y":-39.6,"t":"attenuation"},{"p":6,"g":"mark","x":1.72,"y":-20,"t":"∞"},{"p":6,"g":"mark","x":1.98,"y":-104,"t":"1.6"},{"p":6,"g":"mark","x":1.58,"y":-113,"t":"1"}
]
},
"columns": 3,
"spacing": {"row": 72, "column": 68},
"bounds": "flush",
"concat": [
{"title": "Broadband Signal", "width": 216, "height": 200, "layer": [
 {"data": {"name": "noise"}, "transform": [{"filter": "datum.p == 1"}], "mark": {"type": "area", "color": "#8c8c8c", "clip": true},
  "encoding": {"x": {"field": "x", "type": "quantitative", "scale": {"domain": [0, 5], "nice": false}, "axis": {"values": [1,2,3,4,5], "title": null}},
   "y": {"field": "h", "type": "quantitative", "scale": {"domain": [-110, 0], "nice": false}, "axis": {"values": [0,-50,-100], "title": "Amplitude [db]"}}, "y2": {"field": "l"}}},
 {"data": {"name": "spikes"}, "transform": [{"filter": "datum.p == 1"}], "mark": {"type": "rule", "color": "#8c8c8c", "strokeWidth": 1.2},
  "encoding": {"x": {"field": "x", "type": "quantitative"}, "y": {"field": "top", "type": "quantitative"}, "y2": {"field": "bot"}}}
]},
{"title": "Signal @ 1MHz", "width": 216, "height": 200, "layer": [
 {"data": {"name": "noise"}, "transform": [{"filter": "datum.p == 2"}], "mark": {"type": "area", "color": "#c40000", "clip": true},
  "encoding": {"x": {"field": "x", "type": "quantitative", "scale": {"domain": [0, 5], "nice": false}, "axis": {"values": [1,2,3,4,5], "title": null}},
   "y": {"field": "h", "type": "quantitative", "scale": {"domain": [-110, 0], "nice": false}, "axis": {"values": [0,-50,-100], "title": null}}, "y2": {"field": "l"}}},
 {"data": {"name": "spikes"}, "transform": [{"filter": "datum.p == 2"}], "mark": {"type": "rule", "color": "#c04a4a", "strokeWidth": 1.2},
  "encoding": {"x": {"field": "x", "type": "quantitative"}, "y": {"field": "top", "type": "quantitative"}, "y2": {"field": "bot"}}},
 {"data": {"name": "curves"}, "transform": [{"filter": "datum.p == 2"}], "mark": {"type": "line", "strokeWidth": 1.6, "clip": true},
  "encoding": {"x": {"field": "x", "type": "quantitative"}, "y": {"field": "y", "type": "quantitative"}, "detail": {"field": "s"}, "color": {"field": "k", "type": "nominal", "scale": {"domain": ["model", "echo"], "range": ["#111111", "#2a2ac4"]}, "legend": null}}},
 {"data": {"name": "labels"}, "transform": [{"filter": "datum.p == 2 && datum.g == 'name'"}], "mark": {"type": "text", "fontSize": 18, "color": "black"},
  "encoding": {"x": {"field": "x", "type": "quantitative"}, "y": {"field": "y", "type": "quantitative"}, "text": {"field": "t"}}},
 {"data": {"name": "labels"}, "transform": [{"filter": "datum.p == 2 && datum.g == 'mark'"}], "mark": {"type": "text", "fontSize": 14, "color": "black"},
  "encoding": {"x": {"field": "x", "type": "quantitative"}, "y": {"field": "y", "type": "quantitative"}, "text": {"field": "t"}}}
]},
{"title": "Signal @ 2MHz", "width": 216, "height": 200, "layer": [
 {"data": {"name": "noise"}, "transform": [{"filter": "datum.p == 3"}], "mark": {"type": "area", "color": "#c40000", "clip": true},
  "encoding": {"x": {"field": "x", "type": "quantitative", "scale": {"domain": [0, 5], "nice": false}, "axis": {"values": [1,2,3,4,5], "title": null}},
   "y": {"field": "h", "type": "quantitative", "scale": {"domain": [-110, 0], "nice": false}, "axis": {"values": [0,-50,-100], "title": null}}, "y2": {"field": "l"}}},
 {"data": {"name": "spikes"}, "transform": [{"filter": "datum.p == 3"}], "mark": {"type": "rule", "color": "#c04a4a", "strokeWidth": 1.2},
  "encoding": {"x": {"field": "x", "type": "quantitative"}, "y": {"field": "top", "type": "quantitative"}, "y2": {"field": "bot"}}},
 {"data": {"name": "curves"}, "transform": [{"filter": "datum.p == 3"}], "mark": {"type": "line", "strokeWidth": 1.6, "clip": true},
  "encoding": {"x": {"field": "x", "type": "quantitative"}, "y": {"field": "y", "type": "quantitative"}, "detail": {"field": "s"}, "color": {"field": "k", "type": "nominal", "scale": {"domain": ["model", "echo"], "range": ["#111111", "#2a2ac4"]}, "legend": null}}},
 {"data": {"name": "labels"}, "transform": [{"filter": "datum.p == 3 && datum.g == 'name'"}], "mark": {"type": "text", "fontSize": 18, "color": "black"},
  "encoding": {"x": {"field": "x", "type": "quantitative"}, "y": {"field": "y", "type": "quantitative"}, "text": {"field": "t"}}},
 {"data": {"name": "labels"}, "transform": [{"filter": "datum.p == 3 && datum.g == 'mark'"}], "mark": {"type": "text", "fontSize": 14, "color": "black"},
  "encoding": {"x": {"field": "x", "type": "quantitative"}, "y": {"field": "y", "type": "quantitative"}, "text": {"field": "t"}}}
]},
{"title": "Signal @ 3MHz", "width": 216, "height": 200, "layer": [
 {"data": {"name": "noise"}, "transform": [{"filter": "datum.p == 4"}], "mark": {"type": "area", "color": "#c40000", "clip": true},
  "encoding": {"x": {"field": "x", "type": "quantitative", "scale": {"domain": [0, 5], "nice": false}, "axis": {"values": [1,2,3,4,5], "title": "Range [m]"}},
   "y": {"field": "h", "type": "quantitative", "scale": {"domain": [-110, 0], "nice": false}, "axis": {"values": [0,-50,-100], "title": "Amplitude [db]"}}, "y2": {"field": "l"}}},
 {"data": {"name": "spikes"}, "transform": [{"filter": "datum.p == 4"}], "mark": {"type": "rule", "color": "#c04a4a", "strokeWidth": 1.2},
  "encoding": {"x": {"field": "x", "type": "quantitative"}, "y": {"field": "top", "type": "quantitative"}, "y2": {"field": "bot"}}},
 {"data": {"name": "curves"}, "transform": [{"filter": "datum.p == 4"}], "mark": {"type": "line", "strokeWidth": 1.6, "clip": true},
  "encoding": {"x": {"field": "x", "type": "quantitative"}, "y": {"field": "y", "type": "quantitative"}, "detail": {"field": "s"}, "color": {"field": "k", "type": "nominal", "scale": {"domain": ["model", "echo"], "range": ["#111111", "#2a2ac4"]}, "legend": null}}},
 {"data": {"name": "labels"}, "transform": [{"filter": "datum.p == 4 && datum.g == 'name'"}], "mark": {"type": "text", "fontSize": 18, "color": "black"},
  "encoding": {"x": {"field": "x", "type": "quantitative"}, "y": {"field": "y", "type": "quantitative"}, "text": {"field": "t"}}},
 {"data": {"name": "labels"}, "transform": [{"filter": "datum.p == 4 && datum.g == 'mark'"}], "mark": {"type": "text", "fontSize": 14, "color": "black"},
  "encoding": {"x": {"field": "x", "type": "quantitative"}, "y": {"field": "y", "type": "quantitative"}, "text": {"field": "t"}}}
]},
{"title": "Signal @ 4MHz", "width": 216, "height": 200, "layer": [
 {"data": {"name": "noise"}, "transform": [{"filter": "datum.p == 5"}], "mark": {"type": "area", "color": "#c40000", "clip": true},
  "encoding": {"x": {"field": "x", "type": "quantitative", "scale": {"domain": [0, 5], "nice": false}, "axis": {"values": [1,2,3,4,5], "title": "Range [m]"}},
   "y": {"field": "h", "type": "quantitative", "scale": {"domain": [-110, 0], "nice": false}, "axis": {"values": [0,-50,-100], "title": null}}, "y2": {"field": "l"}}},
 {"data": {"name": "spikes"}, "transform": [{"filter": "datum.p == 5"}], "mark": {"type": "rule", "color": "#c04a4a", "strokeWidth": 1.2},
  "encoding": {"x": {"field": "x", "type": "quantitative"}, "y": {"field": "top", "type": "quantitative"}, "y2": {"field": "bot"}}},
 {"data": {"name": "curves"}, "transform": [{"filter": "datum.p == 5"}], "mark": {"type": "line", "strokeWidth": 1.6, "clip": true},
  "encoding": {"x": {"field": "x", "type": "quantitative"}, "y": {"field": "y", "type": "quantitative"}, "detail": {"field": "s"}, "color": {"field": "k", "type": "nominal", "scale": {"domain": ["model", "echo"], "range": ["#111111", "#2a2ac4"]}, "legend": null}}},
 {"data": {"name": "labels"}, "transform": [{"filter": "datum.p == 5 && datum.g == 'name'"}], "mark": {"type": "text", "fontSize": 18, "color": "black"},
  "encoding": {"x": {"field": "x", "type": "quantitative"}, "y": {"field": "y", "type": "quantitative"}, "text": {"field": "t"}}},
 {"data": {"name": "labels"}, "transform": [{"filter": "datum.p == 5 && datum.g == 'mark'"}], "mark": {"type": "text", "fontSize": 14, "color": "black"},
  "encoding": {"x": {"field": "x", "type": "quantitative"}, "y": {"field": "y", "type": "quantitative"}, "text": {"field": "t"}}}
]},
{"title": "Signal @ 5MHz", "width": 216, "height": 200, "layer": [
 {"data": {"name": "noise"}, "transform": [{"filter": "datum.p == 6"}], "mark": {"type": "area", "color": "#c40000", "clip": true},
  "encoding": {"x": {"field": "x", "type": "quantitative", "scale": {"domain": [0, 5], "nice": false}, "axis": {"values": [1,2,3,4,5], "title": "Range [m]"}},
   "y": {"field": "h", "type": "quantitative", "scale": {"domain": [-110, 0], "nice": false}, "axis": {"values": [0,-50,-100], "title": null}}, "y2": {"field": "l"}}},
 {"data": {"name": "spikes"}, "transform": [{"filter": "datum.p == 6"}], "mark": {"type": "rule", "color": "#c04a4a", "strokeWidth": 1.2},
  "encoding": {"x": {"field": "x", "type": "quantitative"}, "y": {"field": "top", "type": "quantitative"}, "y2": {"field": "bot"}}},
 {"data": {"name": "curves"}, "transform": [{"filter": "datum.p == 6"}], "mark": {"type": "line", "strokeWidth": 1.6, "clip": true},
  "encoding": {"x": {"field": "x", "type": "quantitative"}, "y": {"field": "y", "type": "quantitative"}, "detail": {"field": "s"}, "color": {"field": "k", "type": "nominal", "scale": {"domain": ["model", "echo"], "range": ["#111111", "#2a2ac4"]}, "legend": null}}},
 {"data": {"name": "labels"}, "transform": [{"filter": "datum.p == 6 && datum.g == 'name'"}], "mark": {"type": "text", "fontSize": 18, "color": "black"},
  "encoding": {"x": {"field": "x", "type": "quantitative"}, "y": {"field": "y", "type": "quantitative"}, "text": {"field": "t"}}},
 {"data": {"name": "labels"}, "transform": [{"filter": "datum.p == 6 && datum.g == 'mark'"}], "mark": {"type": "text", "fontSize": 14, "color": "black"},
  "encoding": {"x": {"field": "x", "type": "quantitative"}, "y": {"field": "y", "type": "quantitative"}, "text": {"field": "t"}}}
]}
]
}
